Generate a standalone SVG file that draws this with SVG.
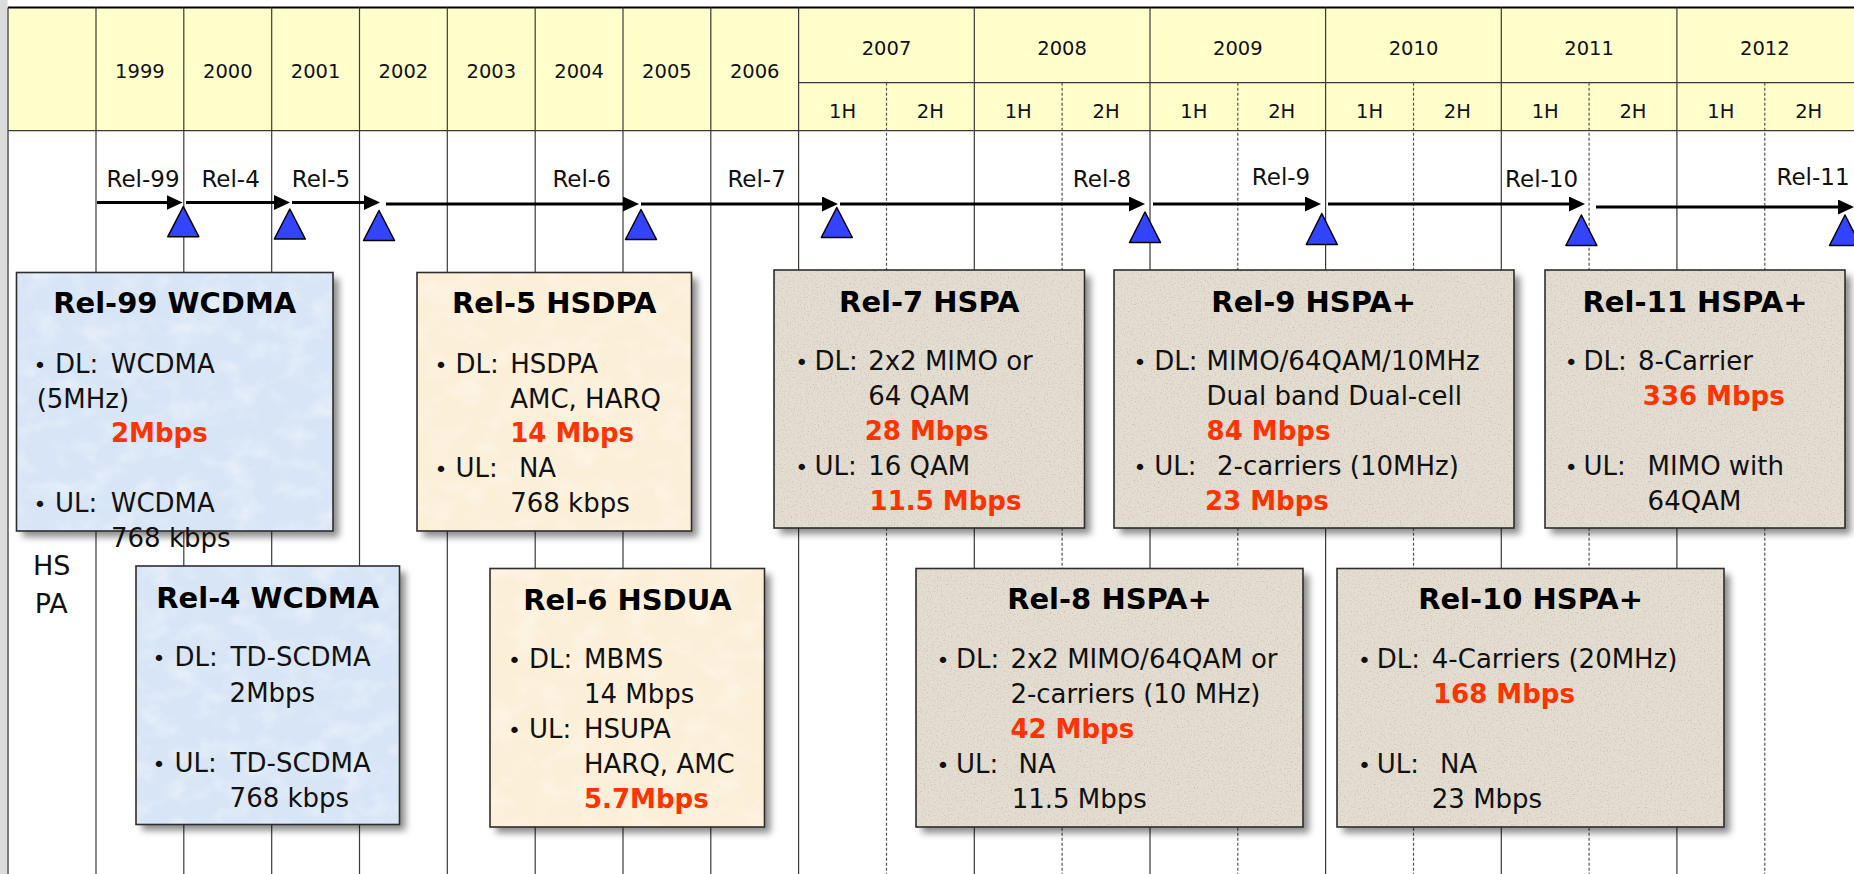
<svg xmlns="http://www.w3.org/2000/svg" width="1854" height="874" viewBox="0 0 1854 874">
  <style>
    text { font-family: "DejaVu Sans", "Liberation Sans", sans-serif; fill: #111; }
    .hdr { font-size: 19.5px; text-anchor: middle; }
    .rel { font-size: 23px; text-anchor: middle; }
    .title { font-size: 29px; font-weight: bold; text-anchor: middle; fill: #000; }
    .body { font-size: 26px; }
    .dot { font-size: 22px; }
    .hl { font-weight: bold; fill: #ff3300; }
    .side { font-size: 27px; }
    .grid { stroke: #3a3a3a; stroke-width: 1.2; fill: none; }
    .half { stroke: #555; stroke-width: 1.2; stroke-dasharray: 3 2; fill: none; }
    .tl { stroke: #000; stroke-width: 3; fill: none; marker-end: url(#head); }
    .tri { fill: #3344ff; stroke: #000; stroke-width: 1.5; stroke-linejoin: round; }
    .edge { fill: none; stroke: #2e2e2e; stroke-width: 1.6; }
    .blue { fill: #d8e5f6; }
    .cream { fill: #fcefd8; }
    .stone { fill: #e4ddd1; }
  </style>
  <defs>
    <marker id="head" viewBox="0 0 16 15" refX="6" refY="7.5" markerWidth="16" markerHeight="15" markerUnits="userSpaceOnUse" orient="auto">
      <path d="M0,0 L16,7.5 L0,15 Z" fill="#000"/>
    </marker>
    <filter id="shadow" x="-10%" y="-10%" width="130%" height="130%">
      <feDropShadow dx="6" dy="6" stdDeviation="3.5" flood-color="#000" flood-opacity="0.45"/>
    </filter>
    <filter id="speckle" x="0" y="0" width="1" height="1">
      <feTurbulence type="fractalNoise" baseFrequency="0.7" numOctaves="2" seed="4" result="n"/>
      <feColorMatrix in="n" type="matrix" values="0 0 0 0 0.45  0 0 0 0 0.40  0 0 0 0 0.33  3 0 0 0 -1.55" result="s"/>
      <feComposite in="s" in2="SourceGraphic" operator="in"/>
    </filter>
    <filter id="mottle" x="0" y="0" width="1" height="1">
      <feTurbulence type="fractalNoise" baseFrequency="0.035 0.05" numOctaves="3" seed="9" result="n"/>
      <feColorMatrix in="n" type="matrix" values="0 0 0 0 1  0 0 0 0 1  0 0 0 0 1  2.5 0 0 0 -1.1" result="w"/>
      <feComposite in="w" in2="SourceGraphic" operator="in"/>
    </filter>
  </defs>

  <!-- page -->
  <rect x="0" y="0" width="1854" height="874" fill="#fff"/>
  <rect x="0" y="0" width="7.5" height="874" fill="#dcdcdc"/>

  <!-- header band -->
  <g id="header">
    <rect x="8" y="7.5" width="1846" height="123.2" fill="#ffffcc"/>
    <line x1="8" y1="7.5" x2="1854" y2="7.5" stroke="#000" stroke-width="2"/>
    <line x1="8" y1="130.7" x2="1854" y2="130.7" class="grid"/>
    <line x1="798.6" y1="82.7" x2="1854" y2="82.7" class="grid"/>
    <text class="hdr" x="139.9" y="78.3">1999</text>
    <text class="hdr" x="227.8" y="78.3">2000</text>
    <text class="hdr" x="315.6" y="78.3">2001</text>
    <text class="hdr" x="403.4" y="78.3">2002</text>
    <text class="hdr" x="491.3" y="78.3">2003</text>
    <text class="hdr" x="579.1" y="78.3">2004</text>
    <text class="hdr" x="666.9" y="78.3">2005</text>
    <text class="hdr" x="754.7" y="78.3">2006</text>
    <text class="hdr" x="886.5" y="55">2007</text>
    <text class="hdr" x="1062.1" y="55">2008</text>
    <text class="hdr" x="1237.8" y="55">2009</text>
    <text class="hdr" x="1413.5" y="55">2010</text>
    <text class="hdr" x="1589.1" y="55">2011</text>
    <text class="hdr" x="1764.8" y="55">2012</text>
    <text class="hdr" x="842.6" y="118.3">1H</text>
    <text class="hdr" x="930.4" y="118.3">2H</text>
    <text class="hdr" x="1018.2" y="118.3">1H</text>
    <text class="hdr" x="1106.1" y="118.3">2H</text>
    <text class="hdr" x="1193.9" y="118.3">1H</text>
    <text class="hdr" x="1281.7" y="118.3">2H</text>
    <text class="hdr" x="1369.6" y="118.3">1H</text>
    <text class="hdr" x="1457.4" y="118.3">2H</text>
    <text class="hdr" x="1545.2" y="118.3">1H</text>
    <text class="hdr" x="1633.0" y="118.3">2H</text>
    <text class="hdr" x="1720.9" y="118.3">1H</text>
    <text class="hdr" x="1808.7" y="118.3">2H</text>
  </g>

  <!-- column rules: years solid, half-years dashed -->
  <g id="grid">
    <line x1="8" y1="7.5" x2="8" y2="874" stroke="#555" stroke-width="1.5"/>
    <line class="grid" x1="96" y1="7.5" x2="96" y2="874"/>
    <line class="grid" x1="183.8" y1="7.5" x2="183.8" y2="874"/>
    <line class="grid" x1="271.7" y1="7.5" x2="271.7" y2="874"/>
    <line class="grid" x1="359.5" y1="7.5" x2="359.5" y2="874"/>
    <line class="grid" x1="447.3" y1="7.5" x2="447.3" y2="874"/>
    <line class="grid" x1="535.2" y1="7.5" x2="535.2" y2="874"/>
    <line class="grid" x1="623.0" y1="7.5" x2="623.0" y2="874"/>
    <line class="grid" x1="710.8" y1="7.5" x2="710.8" y2="874"/>
    <line class="grid" x1="798.6" y1="7.5" x2="798.6" y2="874"/>
    <line class="grid" x1="974.3" y1="7.5" x2="974.3" y2="874"/>
    <line class="grid" x1="1150.0" y1="7.5" x2="1150.0" y2="874"/>
    <line class="grid" x1="1325.6" y1="7.5" x2="1325.6" y2="874"/>
    <line class="grid" x1="1501.3" y1="7.5" x2="1501.3" y2="874"/>
    <line class="grid" x1="1676.9" y1="7.5" x2="1676.9" y2="874"/>
    <line class="half" x1="886.5" y1="82.7" x2="886.5" y2="874"/>
    <line class="half" x1="1062.1" y1="82.7" x2="1062.1" y2="874"/>
    <line class="half" x1="1237.8" y1="82.7" x2="1237.8" y2="874"/>
    <line class="half" x1="1413.5" y1="82.7" x2="1413.5" y2="874"/>
    <line class="half" x1="1589.1" y1="82.7" x2="1589.1" y2="874"/>
    <line class="half" x1="1764.8" y1="82.7" x2="1764.8" y2="874"/>
  </g>

  <!-- release timeline -->
  <g id="connectors">
    <line class="tl" x1="97" y1="202.5" x2="172.5" y2="202.5"/>
    <line class="tl" x1="186" y1="202.5" x2="280" y2="202.5"/>
    <line class="tl" x1="292" y1="202.5" x2="370" y2="202.5"/>
    <line class="tl" x1="386" y1="204" x2="629" y2="204"/>
    <line class="tl" x1="641" y1="204" x2="828" y2="204"/>
    <line class="tl" x1="840" y1="204" x2="1135" y2="204"/>
    <line class="tl" x1="1153" y1="204" x2="1311" y2="204"/>
    <line class="tl" x1="1328" y1="204" x2="1575" y2="204"/>
    <line class="tl" x1="1596" y1="207" x2="1844" y2="207"/>
  </g>

  <g id="milestones">
    <polygon class="tri" points="183.3,206.7 198.8,236.7 167.8,236.7"/>
    <polygon class="tri" points="289.8,209 305.3,239 274.3,239"/>
    <polygon class="tri" points="379,210.5 394.5,240.5 363.5,240.5"/>
    <polygon class="tri" points="641,209.5 656.5,239.5 625.5,239.5"/>
    <polygon class="tri" points="836.8,207.5 852.3,237.5 821.3,237.5"/>
    <polygon class="tri" points="1145,212 1160.5,242.5 1129.5,242.5"/>
    <polygon class="tri" points="1321.8,213.5 1337.3,244.5 1306.3,244.5"/>
    <polygon class="tri" points="1581.4,215 1596.9,245.5 1565.9,245.5"/>
    <polygon class="tri" points="1845,215 1860.5,245.5 1829.5,245.5"/>
  </g>

  <g id="release-labels">
    <text class="rel" x="143" y="186.7">Rel-99</text>
    <text class="rel" x="230.6" y="186.7">Rel-4</text>
    <text class="rel" x="321" y="186.7">Rel-5</text>
    <text class="rel" x="581.6" y="186.7">Rel-6</text>
    <text class="rel" x="756.6" y="186.7">Rel-7</text>
    <text class="rel" x="1102" y="186.7">Rel-8</text>
    <text class="rel" x="1281" y="185">Rel-9</text>
    <text class="rel" x="1541.6" y="186.7">Rel-10</text>
    <text class="rel" x="1813" y="185">Rel-11</text>
  </g>

  <g id="row-label">
    <text class="side"><tspan x="33" y="575">HS</tspan><tspan x="34.7" y="612.7">PA</tspan></text>
  </g>

  <!-- release cards -->
  <g id="rel99-wcdma">
    <rect class="blue" x="16.5" y="272.5" width="316.5" height="258.5" filter="url(#shadow)"/>
    <rect x="16.5" y="272.5" width="316.5" height="258.5" fill="#fff" opacity="0.35" filter="url(#mottle)"/>
    <rect class="edge" x="16.5" y="272.5" width="316.5" height="258.5"/>
    <text class="title" x="174.7" y="313">Rel-99 WCDMA</text>
    <text class="body" y="372.7"><tspan class="dot" x="33.5">•</tspan><tspan x="55">DL:</tspan><tspan x="110.7">WCDMA</tspan></text>
    <text class="body" x="36.7" y="408.3">(5MHz)</text>
    <text class="body hl" x="111" y="441.7">2Mbps</text>
    <text class="body" y="511.7"><tspan class="dot" x="33.5">•</tspan><tspan x="55">UL:</tspan><tspan x="110.7">WCDMA</tspan></text>
    <text class="body" x="111" y="546.7">768 kbps</text>
  </g>

  <g id="rel4-wcdma">
    <rect class="blue" x="136" y="566" width="263.5" height="258.5" filter="url(#shadow)"/>
    <rect x="136" y="566" width="263.5" height="258.5" fill="#fff" opacity="0.35" filter="url(#mottle)"/>
    <rect class="edge" x="136" y="566" width="263.5" height="258.5"/>
    <text class="title" x="267.7" y="608.3">Rel-4 WCDMA</text>
    <text class="body" y="666"><tspan class="dot" x="152.4">•</tspan><tspan x="174.5">DL:</tspan><tspan x="230.6">TD-SCDMA</tspan></text>
    <text class="body" x="229.6" y="701.7">2Mbps</text>
    <text class="body" y="771.7"><tspan class="dot" x="152.4">•</tspan><tspan x="174.5">UL:</tspan><tspan x="230.6">TD-SCDMA</tspan></text>
    <text class="body" x="229.6" y="806.7">768 kbps</text>
  </g>

  <g id="rel5-hsdpa">
    <rect class="cream" x="417" y="272.5" width="274.5" height="258.5" filter="url(#shadow)"/>
    <rect x="417" y="272.5" width="274.5" height="258.5" fill="#fff" opacity="0.3" filter="url(#mottle)"/>
    <rect class="edge" x="417" y="272.5" width="274.5" height="258.5"/>
    <text class="title" x="554.2" y="313">Rel-5 HSDPA</text>
    <text class="body" y="372.7"><tspan class="dot" x="434.6">•</tspan><tspan x="455.6">DL:</tspan><tspan x="510.2">HSDPA</tspan></text>
    <text class="body" x="510.2" y="408.3">AMC, HARQ</text>
    <text class="body hl" x="510.2" y="441.7">14 Mbps</text>
    <text class="body" y="476.7"><tspan class="dot" x="434.6">•</tspan><tspan x="455.6">UL:</tspan><tspan x="518.9">NA</tspan></text>
    <text class="body" x="510.2" y="511.7">768 kbps</text>
  </g>

  <g id="rel6-hsdua">
    <rect class="cream" x="490" y="568.5" width="274.5" height="258.5" filter="url(#shadow)"/>
    <rect x="490" y="568.5" width="274.5" height="258.5" fill="#fff" opacity="0.3" filter="url(#mottle)"/>
    <rect class="edge" x="490" y="568.5" width="274.5" height="258.5"/>
    <text class="title" x="627.5" y="610">Rel-6 HSDUA</text>
    <text class="body" y="668.3"><tspan class="dot" x="508">•</tspan><tspan x="529">DL:</tspan><tspan x="584">MBMS</tspan></text>
    <text class="body" x="584" y="703.3">14 Mbps</text>
    <text class="body" y="738.3"><tspan class="dot" x="508">•</tspan><tspan x="529">UL:</tspan><tspan x="584">HSUPA</tspan></text>
    <text class="body" x="584" y="773.3">HARQ, AMC</text>
    <text class="body hl" x="584" y="808.3">5.7Mbps</text>
  </g>

  <g id="rel7-hspa">
    <rect class="stone" x="774" y="270" width="310.5" height="258" filter="url(#shadow)"/>
    <rect x="774" y="270" width="310.5" height="258" fill="#000" opacity="0.5" filter="url(#speckle)"/>
    <rect class="edge" x="774" y="270" width="310.5" height="258"/>
    <text class="title" x="929.3" y="311.7">Rel-7 HSPA</text>
    <text class="body" y="370"><tspan class="dot" x="795.2">•</tspan><tspan x="814.4">DL:</tspan><tspan x="868.2">2x2 MIMO or</tspan></text>
    <text class="body" x="868.2" y="405">64 QAM</text>
    <text class="body hl" x="864.7" y="440">28 Mbps</text>
    <text class="body" y="475"><tspan class="dot" x="795.2">•</tspan><tspan x="814.4">UL:</tspan><tspan x="868.2">16 QAM</tspan></text>
    <text class="body hl" x="869.6" y="510">11.5 Mbps</text>
  </g>

  <g id="rel8-hspa-plus">
    <rect class="stone" x="916" y="568.5" width="387" height="258.5" filter="url(#shadow)"/>
    <rect x="916" y="568.5" width="387" height="258.5" fill="#000" opacity="0.5" filter="url(#speckle)"/>
    <rect class="edge" x="916" y="568.5" width="387" height="258.5"/>
    <text class="title" x="1109.5" y="609.3">Rel-8 HSPA+</text>
    <text class="body" y="668.3"><tspan class="dot" x="936.6">•</tspan><tspan x="956">DL:</tspan><tspan x="1010.4">2x2 MIMO/64QAM or</tspan></text>
    <text class="body" x="1010.4" y="703.3">2-carriers (10 MHz)</text>
    <text class="body hl" x="1010.4" y="738.3">42 Mbps</text>
    <text class="body" y="773.3"><tspan class="dot" x="936.6">•</tspan><tspan x="956">UL:</tspan><tspan x="1018.5">NA</tspan></text>
    <text class="body" x="1011.7" y="808.3">11.5 Mbps</text>
  </g>

  <g id="rel9-hspa-plus">
    <rect class="stone" x="1114" y="270" width="400" height="258" filter="url(#shadow)"/>
    <rect x="1114" y="270" width="400" height="258" fill="#000" opacity="0.5" filter="url(#speckle)"/>
    <rect class="edge" x="1114" y="270" width="400" height="258"/>
    <text class="title" x="1313.7" y="311.7">Rel-9 HSPA+</text>
    <text class="body" y="370"><tspan class="dot" x="1133.6">•</tspan><tspan x="1154.3">DL:</tspan><tspan x="1206.6">MIMO/64QAM/10MHz</tspan></text>
    <text class="body" x="1206.6" y="405">Dual band Dual-cell</text>
    <text class="body hl" x="1206.6" y="440">84 Mbps</text>
    <text class="body" y="475"><tspan class="dot" x="1133.6">•</tspan><tspan x="1154.3">UL:</tspan><tspan x="1217">2-carriers (10MHz)</tspan></text>
    <text class="body hl" x="1205" y="510">23 Mbps</text>
  </g>

  <g id="rel10-hspa-plus">
    <rect class="stone" x="1337" y="568.5" width="387" height="258.5" filter="url(#shadow)"/>
    <rect x="1337" y="568.5" width="387" height="258.5" fill="#000" opacity="0.5" filter="url(#speckle)"/>
    <rect class="edge" x="1337" y="568.5" width="387" height="258.5"/>
    <text class="title" x="1530.6" y="609.3">Rel-10 HSPA+</text>
    <text class="body" y="668.3"><tspan class="dot" x="1358.1">•</tspan><tspan x="1376.7">DL:</tspan><tspan x="1431.8">4-Carriers (20MHz)</tspan></text>
    <text class="body hl" x="1433" y="703.3">168 Mbps</text>
    <text class="body" y="773.3"><tspan class="dot" x="1358.1">•</tspan><tspan x="1376.7">UL:</tspan><tspan x="1440">NA</tspan></text>
    <text class="body" x="1431.8" y="808.3">23 Mbps</text>
  </g>

  <g id="rel11-hspa-plus">
    <rect class="stone" x="1545" y="270" width="300" height="258" filter="url(#shadow)"/>
    <rect x="1545" y="270" width="300" height="258" fill="#000" opacity="0.5" filter="url(#speckle)"/>
    <rect class="edge" x="1545" y="270" width="300" height="258"/>
    <text class="title" x="1695" y="311.7">Rel-11 HSPA+</text>
    <text class="body" y="370"><tspan class="dot" x="1564.8">•</tspan><tspan x="1583.5">DL:</tspan><tspan x="1638">8-Carrier</tspan></text>
    <text class="body hl" x="1642.8" y="405">336 Mbps</text>
    <text class="body" y="475"><tspan class="dot" x="1564.8">•</tspan><tspan x="1583.5">UL:</tspan><tspan x="1647.6">MIMO with</tspan></text>
    <text class="body" x="1647.6" y="510">64QAM</text>
  </g>
</svg>
